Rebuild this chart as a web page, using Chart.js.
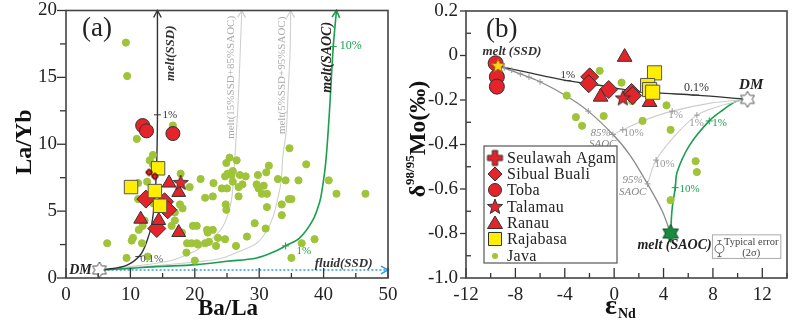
<!DOCTYPE html>
<html>
<head>
<meta charset="utf-8">
<script src="https://cdn.jsdelivr.net/npm/chart.js@4.4.0/dist/chart.umd.min.js"></script>
<style>
html, body { margin: 0; padding: 0; background: #fff; }
#wrap { position: relative; width: 800px; height: 324px; }
.pane { position: absolute; top: 0; width: 400px; height: 324px; }
</style>
</head>
<body>
<div id="wrap">
  <div class="pane" style="left:0"><canvas id="graphA" width="400" height="324"></canvas></div>
  <div class="pane" style="left:400px"><canvas id="graphB" width="400" height="324"></canvas></div>
</div>
<script>
// ---- panel (a) : Ba/La vs La/Yb ----
var javaA = [[9.3,17.6],[9.5,15.1],[11.0,10.4],[13.5,9.2],[16.6,11.4],[13.0,8.8],[11.2,7.1],[12.6,7.2],[17.8,7.8],
  [11.2,5.9],[12.9,6.2],[17.7,5.5],[16.9,4.9],[18.1,5.2],[12.2,4.3],[11.9,3.9],[11.3,3.6],[16.9,4.3],[16.4,3.9],
  [10.4,3.0],[11.8,2.6],[10.2,2.8],[6.4,2.6],[18.8,2.6],[18.7,1.9],[9.4,1.5],[12.7,1.6],[20.3,2.6],[13.5,5.6],
  [19.2,6.8],[19.7,3.9],[18.0,3.4],[13.5,8.5],
  [34.7,9.7],[37.3,8.5],[31.5,8.4],[25.4,9.0],[24.9,8.6],[26.5,8.8],[25.9,8.0],[25.1,7.8],[24.7,7.6],[25.7,7.7],
  [27.0,7.7],[27.9,7.6],[29.8,7.7],[31.1,7.9],[32.9,7.4],[34.1,7.3],[36.1,7.3],[40.8,7.3],[20.9,7.4],[22.9,7.1],
  [24.2,6.7],[25.0,6.7],[26.8,6.8],[27.4,7.0],[25.9,7.2],[29.6,7.0],[30.7,6.9],[29.9,6.7],[30.4,6.3],[31.2,6.3],
  [42.0,6.3],[46.5,6.3],[21.6,6.0],[22.8,6.1],[26.8,6.1],[24.8,5.5],[24.9,5.1],[33.5,5.5],[34.6,5.9],[35.0,5.9],
  [31.2,5.3],[33.5,4.7],[20.3,3.9],[21.9,3.6],[22.8,3.6],[22.0,3.4],[29.3,4.1],[31.0,3.7],[23.6,3.0],[24.7,2.9],
  [28.1,3.1],[26.4,2.4],[22.2,2.7],[21.6,2.6],[20.5,2.5],[19.5,2.6],[23.3,2.4],[36.6,2.6],[38.6,2.9],[35.0,1.5],[20.0,1.3]];
var tobaA = [[11.9,11.4],[12.5,11.0],[16.6,10.8]];
var rajabasaA = [[14.3,8.2],[10.1,6.8],[13.8,6.5],[14.6,5.4]];
var ranauA = [[16.0,7.1],[17.5,6.4],[11.6,4.4],[14.4,4.3],[17.5,3.4]];
var talamauA = [[17.8,7.1]];
var sibualA = [[12.4,5.9],[15.3,5.7],[15.8,5.1],[14.1,3.7]];
var seulawahA = [[12.9,7.9],[13.8,7.6]];
var dmA = [[5.2,0.6]];
var ssdMeltA = [[5.2,0.6],[6.0,0.62],[9.4,0.95],[11.5,1.7],[12.6,2.8],[13.3,4.0],[13.8,6.0],[14.1,8.9],[14.2,12],[14.2,16],[14.2,20]];
var mix15A = [[5.2,0.6],[10,0.85],[14,1.1],[17,1.4],[20,2.0],[21.5,2.5],[23,3.1],[24.3,3.8],[25.3,5],[25.8,6.2],[26.2,8.9],[26.6,12],[26.9,15],[27.1,17.5],[27.3,20]];
var mix5A = [[5.2,0.6],[12,0.85],[18,1.1],[22,1.3],[24.3,1.5],[27,2],[29.6,2.6],[31,3.4],[32.1,4.5],[32.9,6],[33.4,7.2],[33.7,9.2],[34.2,11],[34.5,14],[34.8,17],[34.9,20]];
var saocMeltA = [[5.2,0.6],[10,0.72],[14,0.85],[20.3,1.0],[25,1.25],[29.6,1.5],[32.5,2.0],[34.1,2.4],[36.3,3.0],[38.3,4.3],[39.4,5.7],[39.8,6.7],[40.3,8.5],[40.7,10.9],[41.1,14],[41.5,17.3],[42.0,20]];
var ssdFluidA = [[5.2,0.6],[50,0.6]];
var darkTicksA = [[14.2,12.2],[11.3,1.6]];
var greenTicksA = [[34.1,2.4],[41.5,17.3]];

// ---- panel (b) : eNd vs d98/95Mo ----
var javaB = [[-1.17,-0.069],[0.6,-0.122],[-3.84,-0.18],[-3.1,-0.277],[-2.6,-0.316],[-0.85,-0.272],[1.45,-0.205],
  [4.24,-0.224],[2.3,-0.294],[4.57,-0.334],[6.6,-0.475],[6.7,-0.524],[4.57,-0.65]];
var tobaB = [[-9.6,-0.035],[-9.5,-0.096],[-9.5,-0.14]];
var sibualB = [[-1.98,-0.096],[-2.06,-0.127],[-0.44,-0.153],[1.41,-0.166],[1.5,-0.18]];
var ranauB = [[0.85,-0.007],[-1.1,-0.186],[2.87,-0.21]];
var talamauB = [[0.7,-0.193]];
var rajabasaB = [[3.27,-0.078],[2.71,-0.135],[2.87,-0.153],[3.12,-0.165]];
var ssdB = [[-9.4,-0.047]];
var saocB = [[4.57,-0.8]];
var dmB = [[10.8,-0.197]];
var ssdDmB = [[-9.4,-0.047],[-7.1,-0.075],[-3.8,-0.113],[-1.2,-0.134],[1.4,-0.158],[3.5,-0.168],[6.6,-0.178],[10.8,-0.197]];
var ssdSaocB = [[-9.4,-0.047],[-7.6,-0.083],[-6.0,-0.118],[-3.8,-0.184],[-2.1,-0.25],[-0.1,-0.355],[1.25,-0.445],[2.7,-0.577],[3.9,-0.7],[4.57,-0.8]];
var mix1B = [[10.8,-0.197],[7.7,-0.215],[4.7,-0.25],[2.3,-0.294],[0.7,-0.334],[-0.1,-0.355]];
var mix2B = [[10.8,-0.197],[8.5,-0.228],[6.7,-0.268],[5.0,-0.356],[3.4,-0.47],[2.7,-0.577]];
var dmSaocB = [[10.8,-0.197],[9.9,-0.206],[8.8,-0.245],[7.7,-0.294],[6.1,-0.404],[5.1,-0.524],[4.95,-0.594],[4.7,-0.687],[4.57,-0.8]];
var grayTicksB = [[-8.9,-0.055],[-8.3,-0.066],[-7.6,-0.083],[-6.9,-0.097],[-6.0,-0.118],[-3.8,-0.184],[-2.1,-0.25],
  [-0.1,-0.355],[2.7,-0.577],[4.7,-0.25],[0.7,-0.334],[6.7,-0.268],[3.4,-0.47]];
var greenTicksB = [[7.7,-0.294],[4.95,-0.594]];
var darkTicksB = [[-3.8,-0.113],[6.6,-0.178]];

var legendNames = ['Seulawah Agam', 'Sibual Buali', 'Toba', 'Talamau', 'Ranau', 'Rajabasa', 'Java'];

var RED = '#e4232a', YEL = '#ffee00', JAVA = '#9fc43a', GRN = '#1a9f4c', BLUE = '#2d9ee0';
var SERIF = '"Liberation Serif", "Times New Roman", serif';

function mkCanvas(s) { var c = document.createElement('canvas'); c.width = c.height = s; return c; }
function starImg(n, ro, ri, fill, stroke, lw) {
  var s = Math.ceil(2 * ro + 2 * lw + 2), c = mkCanvas(s), g = c.getContext('2d');
  g.translate(s / 2, s / 2);
  g.beginPath();
  for (var i = 0; i < 2 * n; i++) {
    var r = i % 2 ? ri : ro, a = -Math.PI / 2 + i * Math.PI / n;
    g.lineTo(r * Math.cos(a), r * Math.sin(a));
  }
  g.closePath();
  g.fillStyle = fill; g.fill();
  g.lineWidth = lw; g.strokeStyle = stroke; g.stroke();
  return c;
}
function plusImg(r, w, fill, stroke) {
  var s = Math.ceil(2 * r + 4), c = mkCanvas(s), g = c.getContext('2d');
  g.translate(s / 2, s / 2);
  g.beginPath();
  [[-w,-r],[w,-r],[w,-w],[r,-w],[r,w],[w,w],[w,r],[-w,r],[-w,w],[-r,w],[-r,-w],[-w,-w]].forEach(function (p) { g.lineTo(p[0], p[1]); });
  g.closePath();
  g.fillStyle = fill; g.fill();
  g.lineWidth = 1; g.strokeStyle = stroke; g.stroke();
  return c;
}

var starRed = starImg(5, 8, 3.4, RED, '#333', 1);
var starYel = starImg(5, 7, 3.2, '#ffd21f', '#9a7a00', 1);
var starGrn = starImg(6, 9, 5.2, '#1a8a3e', '#0b4f22', 1);
var starDM = starImg(6, 8, 4.6, '#fff', '#555', 1);
var plusRed = plusImg(7.5, 2.6, RED, '#333');
var plusSmall = plusImg(3, 1.2, RED, '#400');

function pts(arr) { return arr.map(function (p) { return { x: p[0], y: p[1] }; }); }
function marks(label, arr, style, r, fill, stroke) {
  return { label: label, data: pts(arr), pointStyle: style, pointRadius: r, backgroundColor: fill,
    borderColor: stroke, borderWidth: 1, showLine: false };
}
function curve(label, arr, color, w, dash, arrow) {
  return { label: label, data: pts(arr), showLine: true, borderColor: color, borderWidth: w,
    borderDash: dash || [], pointRadius: 0, tension: 0.35, fill: false, arrow: arrow };
}

function axes(xmin, xmax, xstep, ymin, ymax, ystep, ypad, ycb) {
  var f = { family: SERIF, size: 19 };
  return {
    x: { type: 'linear', min: xmin, max: xmax, grid: { display: false, drawTicks: false }, border: { display: false },
      ticks: { stepSize: xstep, includeBounds: false, padding: 6, color: '#222', font: f, maxRotation: 0, autoSkip: false },
      afterFit: function (s) { s.height = 46; s.paddingLeft = 0; s.paddingRight = 0; } },
    y: { type: 'linear', min: ymin, max: ymax, grid: { display: false, drawTicks: false }, border: { display: false },
      ticks: { stepSize: ystep, padding: ypad, color: '#222', font: f, callback: ycb, autoSkip: false },
      afterFit: function (s) { s.width = 66; s.paddingTop = 0; s.paddingBottom = 0; } }
  };
}

function drawFrame(chart, spec) {
  var ctx = chart.ctx, a = chart.chartArea, xs = chart.scales.x, ys = chart.scales.y;
  ctx.save();
  ctx.strokeStyle = '#333'; ctx.lineWidth = 1.3; ctx.setLineDash([]);
  var n = Math.round((xs.max - xs.min) / spec.xMinor);
  for (var i = 0; i <= n; i++) {
    var v = xs.min + i * spec.xMinor, px = xs.getPixelForValue(v);
    var major = Math.abs(v / spec.xMajor - Math.round(v / spec.xMajor)) < 1e-6;
    ctx.beginPath(); ctx.moveTo(px, a.bottom); ctx.lineTo(px, a.bottom - (major ? 10 : 5)); ctx.stroke();
  }
  n = Math.round((ys.max - ys.min) / spec.yMinor);
  for (i = 0; i <= n; i++) {
    v = ys.min + i * spec.yMinor;
    var py = ys.getPixelForValue(v);
    major = Math.abs(v / spec.yMajor - Math.round(v / spec.yMajor)) < 1e-6;
    var len = major ? spec.yMajorLen : spec.yMinorLen;
    ctx.beginPath(); ctx.moveTo(a.left, py); ctx.lineTo(a.left - len, py); ctx.stroke();
  }
  ctx.lineWidth = 1.6; ctx.strokeStyle = '#444';
  ctx.strokeRect(a.left, a.top, a.right - a.left, a.bottom - a.top);
  ctx.restore();
}

function drawArrows(chart) {
  var ctx = chart.ctx, xs = chart.scales.x, ys = chart.scales.y;
  ctx.save();
  chart.data.datasets.forEach(function (ds) {
    if (!ds.arrow) return;
    var d = ds.data, p = d[d.length - 1], q = d[d.length - 2];
    var x1 = xs.getPixelForValue(p.x), y1 = ys.getPixelForValue(p.y);
    var x0 = xs.getPixelForValue(q.x), y0 = ys.getPixelForValue(q.y);
    var ang = Math.atan2(y1 - y0, x1 - x0);
    ctx.strokeStyle = ds.borderColor; ctx.lineWidth = Math.max(1.3, ds.borderWidth); ctx.setLineDash([]);
    ctx.beginPath();
    ctx.moveTo(x1 - 8 * Math.cos(ang - 0.5), y1 - 8 * Math.sin(ang - 0.5));
    ctx.lineTo(x1, y1);
    ctx.lineTo(x1 - 8 * Math.cos(ang + 0.5), y1 - 8 * Math.sin(ang + 0.5));
    ctx.stroke();
  });
  ctx.restore();
}

function drawTexts(chart, list) {
  var ctx = chart.ctx, xs = chart.scales.x, ys = chart.scales.y;
  list.forEach(function (t) {
    ctx.save();
    ctx.translate(xs.getPixelForValue(t.x), ys.getPixelForValue(t.y));
    if (t.rot) ctx.rotate(t.rot);
    ctx.font = t.font; ctx.fillStyle = t.c || '#222';
    ctx.textAlign = t.align || 'center'; ctx.textBaseline = 'middle';
    ctx.fillText(t.t, 0, 0);
    ctx.restore();
  });
}

var BI = function (s) { return 'italic bold ' + s + 'px ' + SERIF; };
var RG = function (s) { return s + 'px ' + SERIF; };
var IT = function (s) { return 'italic ' + s + 'px ' + SERIF; };
var UP = -Math.PI / 2;

var textsA = [
  { t: '(a)', x: 4.8, y: 18.6, font: RG(27) },
  { t: 'DM', x: 4.0, y: 0.6, font: BI(14), align: 'right' },
  { t: '0.1%', x: 13.3, y: 1.4, font: RG(11), c: '#555' },
  { t: '1%', x: 15.0, y: 12.2, font: RG(11), c: '#333', align: 'left' },
  { t: 'fluid(SSD)', x: 47.6, y: 1.1, font: BI(13), c: '#333', align: 'right' },
  { t: '10%', x: 42.5, y: 17.35, font: RG(12), c: GRN, align: 'left' },
  { t: '1%', x: 35.8, y: 2.0, font: RG(11), c: GRN, align: 'left' },
  { t: 'melt(SSD)', x: 16.3, y: 16.8, font: BI(13), c: '#333', rot: UP },
  { t: 'melt(15%SSD+85%SAOC)', x: 25.7, y: 15.0, font: RG(11), c: '#aaa', rot: UP },
  { t: 'melt(5%SSD+95%SAOC)', x: 33.6, y: 15.15, font: RG(11), c: '#aaa', rot: UP },
  { t: 'melt(SAOC)', x: 40.6, y: 16.5, font: BI(14), c: '#222', rot: UP }
];

var textsB = [
  { t: '(b)', x: -9.1, y: 0.116, font: RG(27) },
  { t: 'melt (SSD)', x: -8.28, y: 0.019, font: BI(13), c: '#333' },
  { t: '1%', x: -3.76, y: -0.087, font: RG(11), c: '#333' },
  { t: '0.1%', x: 6.67, y: -0.144, font: RG(12), c: '#333' },
  { t: 'DM', x: 11.1, y: -0.135, font: BI(15), c: '#222' },
  { t: '85%', x: -1.09, y: -0.347, font: IT(11), c: '#888' },
  { t: 'SAOC', x: -0.93, y: -0.4, font: IT(11), c: '#888' },
  { t: '95%', x: 1.5, y: -0.559, font: IT(11), c: '#888' },
  { t: 'SAOC', x: 1.5, y: -0.612, font: IT(11), c: '#888' },
  { t: '10%', x: 1.58, y: -0.347, font: RG(11), c: '#999' },
  { t: '10%', x: 4.08, y: -0.488, font: RG(11), c: '#999' },
  { t: '1%', x: 4.97, y: -0.268, font: RG(11), c: '#999' },
  { t: '1%', x: 6.67, y: -0.303, font: RG(11), c: '#999' },
  { t: '1%', x: 8.53, y: -0.303, font: RG(11), c: GRN },
  { t: '10%', x: 6.1, y: -0.599, font: RG(11), c: GRN },
  { t: 'melt (SAOC)', x: 4.89, y: -0.854, font: BI(14), c: '#222' },
  { t: 'Typical error', x: 11.1, y: -0.841, font: RG(10.5), c: '#444' },
  { t: '(2\u03c3)', x: 11.1, y: -0.89, font: RG(10.5), c: '#444' }
];

var configA = {
  type: 'scatter',
  data: { datasets: [
    marks('DM', dmA, starDM, 5),
    marks('Seulawah Agam', seulawahA, plusSmall, 3),
    marks('Rajabasa', rajabasaA, 'rect', 9.5, YEL, '#555'),
    marks('Talamau', talamauA, starRed, 5),
    marks('Ranau', ranauA, 'triangle', 8, RED, '#333'),
    marks('Sibual Buali', sibualA, 'rectRot', 9, RED, '#333'),
    marks('Toba', tobaA, 'circle', 7, RED, '#333'),
    marks('Java', javaA, 'circle', 3.6, JAVA, JAVA),
    marks('ticks', darkTicksA, 'line', 3.5, '#333', '#333'),
    marks('gticks', greenTicksA, 'cross', 3.5, GRN, GRN),
    curve('melt(SSD)', ssdMeltA, '#333', 1.4, null, true),
    curve('melt(SAOC)', saocMeltA, GRN, 1.6, null, true),
    curve('melt 15%', mix15A, '#cfcfcf', 1.1, null, true),
    curve('melt 5%', mix5A, '#cfcfcf', 1.1, null, true),
    curve('fluid(SSD)', ssdFluidA, BLUE, 1.5, [2, 2], true)
  ] },
  options: {
    responsive: false, animation: false, events: [],
    layout: { padding: { left: 0, top: 6, right: 12, bottom: 0 } },
    plugins: { legend: { display: false }, tooltip: { enabled: false } },
    scales: axes(0, 50, 10, 0, 20, 5, 9)
  },
  plugins: [{
    id: 'panelA',
    afterDatasetsDraw: function (chart) {
      drawArrows(chart);
      drawTexts(chart, textsA);
    },
    afterDraw: function (chart) {
      drawFrame(chart, { xMinor: 5, xMajor: 10, yMinor: 2.5, yMajor: 5, yMajorLen: 9, yMinorLen: 6 });
      var ctx = chart.ctx;
      ctx.save();
      ctx.fillStyle = '#111'; ctx.textAlign = 'center'; ctx.textBaseline = 'middle';
      ctx.font = 'bold 23px ' + SERIF;
      ctx.fillText('Ba/La', 228, 309);
      ctx.translate(25, 142); ctx.rotate(UP);
      ctx.font = 'bold 24px ' + SERIF;
      ctx.fillText('La/Yb', 0, 0);
      ctx.restore();
    }
  }]
};

var configB = {
  type: 'scatter',
  data: { datasets: [
    marks('DM', dmB, starDM, 5),
    marks('melt SSD', ssdB, starYel, 5),
    marks('melt SAOC', saocB, starGrn, 5),
    marks('Rajabasa', rajabasaB, 'rect', 10, YEL, '#555'),
    marks('Talamau', talamauB, starRed, 5),
    marks('Ranau', ranauB, 'triangle', 8.5, RED, '#333'),
    marks('Sibual Buali', sibualB, 'rectRot', 9, RED, '#333'),
    marks('Toba', tobaB, 'circle', 7.5, RED, '#333'),
    marks('Java', javaB, 'circle', 3.6, JAVA, JAVA),
    marks('dticks', darkTicksB, 'line', 3.5, '#333', '#333'),
    marks('gticks', grayTicksB, 'cross', 3, '#999', '#999'),
    marks('grticks', greenTicksB, 'cross', 3.5, GRN, GRN),
    curve('SSD-DM', ssdDmB, '#333', 1.4),
    curve('SSD-SAOC', ssdSaocB, '#8a8a8a', 1.3),
    curve('mix1', mix1B, '#cdcdcd', 1.1),
    curve('mix2', mix2B, '#cdcdcd', 1.1),
    curve('DM-SAOC', dmSaocB, GRN, 1.6)
  ] },
  options: {
    responsive: false, animation: false, events: [],
    layout: { padding: { left: 0, top: 6, right: 13, bottom: 0 } },
    plugins: { legend: { display: false }, tooltip: { enabled: false } },
    scales: axes(-12, 14, 4, -1, 0.2, 0.2, 8, function (v) {
      return Math.abs(v) < 1e-9 ? '0' : v.toFixed(1);
    })
  },
  plugins: [{
    id: 'panelB',
    afterDatasetsDraw: function (chart) {
      drawTexts(chart, textsB);
      var ctx = chart.ctx, xs = chart.scales.x, ys = chart.scales.y;
      // typical error box
      var bx = xs.getPixelForValue(7.96), by = ys.getPixelForValue(-0.806);
      var bx2 = xs.getPixelForValue(13.5), by2 = ys.getPixelForValue(-0.912);
      ctx.save();
      ctx.strokeStyle = '#aaa'; ctx.lineWidth = 1;
      ctx.strokeRect(bx, by, bx2 - bx, by2 - by);
      var cx = xs.getPixelForValue(8.53), cy = ys.getPixelForValue(-0.868);
      ctx.strokeStyle = '#666';
      ctx.beginPath(); ctx.moveTo(cx, cy - 8); ctx.lineTo(cx, cy + 8); ctx.stroke();
      ctx.beginPath(); ctx.moveTo(cx - 2, cy - 8); ctx.lineTo(cx + 2, cy - 8); ctx.moveTo(cx - 2, cy + 8); ctx.lineTo(cx + 2, cy + 8); ctx.stroke();
      ctx.beginPath(); ctx.arc(cx, cy, 4.5, 0, Math.PI * 2); ctx.fillStyle = '#fff'; ctx.fill(); ctx.stroke();
      ctx.restore();
    },
    afterDraw: function (chart) {
      drawFrame(chart, { xMinor: 2, xMajor: 4, yMinor: 0.1, yMajor: 0.2, yMajorLen: 6, yMinorLen: -5 });
      var ctx = chart.ctx;
      ctx.save();
      // legend
      ctx.fillStyle = '#fff'; ctx.fillRect(84, 146, 133, 117);
      ctx.strokeStyle = '#555'; ctx.lineWidth = 1.2; ctx.strokeRect(84, 146, 133, 117);
      var rows = [158, 174, 190, 207, 223, 239, 256];
      ctx.font = RG(16); ctx.fillStyle = '#222'; ctx.textBaseline = 'middle'; ctx.textAlign = 'left';
      if ('letterSpacing' in ctx) ctx.letterSpacing = '0.3px';
      legendNames.forEach(function (name, i) {
        var y = rows[i], x = 95;
        ctx.save();
        ctx.fillStyle = i === 5 ? YEL : (i === 6 ? JAVA : RED);
        ctx.strokeStyle = i === 6 ? JAVA : '#333'; ctx.lineWidth = 1;
        ctx.beginPath();
        if (i === 0) { ctx.drawImage(plusRed, x - plusRed.width / 2, y - plusRed.height / 2); }
        else if (i === 1) { ctx.moveTo(x, y - 7); ctx.lineTo(x + 7, y); ctx.lineTo(x, y + 7); ctx.lineTo(x - 7, y); ctx.closePath(); ctx.fill(); ctx.stroke(); }
        else if (i === 2) { ctx.arc(x, y, 6.5, 0, Math.PI * 2); ctx.fill(); ctx.stroke(); }
        else if (i === 3) { ctx.drawImage(starRed, x - starRed.width / 2, y - starRed.height / 2); }
        else if (i === 4) { ctx.moveTo(x, y - 7); ctx.lineTo(x + 7.5, y + 5.5); ctx.lineTo(x - 7.5, y + 5.5); ctx.closePath(); ctx.fill(); ctx.stroke(); }
        else if (i === 5) { ctx.rect(x - 6.5, y - 6.5, 13, 13); ctx.fill(); ctx.stroke(); }
        else { ctx.arc(x, y, 3, 0, Math.PI * 2); ctx.fill(); }
        ctx.restore();
        ctx.fillText(name, 107, y + 1);
      });
      if ('letterSpacing' in ctx) ctx.letterSpacing = '0px';
      // x title: eps Nd
      ctx.fillStyle = '#111'; ctx.textBaseline = 'alphabetic';
      ctx.font = 'bold 28px ' + SERIF;
      ctx.fillText('\u03b5', 205, 314);
      var w = ctx.measureText('\u03b5').width;
      ctx.font = 'bold 14px ' + SERIF;
      ctx.fillText('Nd', 205 + w + 1, 318);
      // y title: d98/95Mo(permil)
      ctx.translate(25, 139); ctx.rotate(UP);
      var big = 'bold 24px ' + SERIF, sm = 'bold 13px ' + SERIF;
      ctx.font = big; var w1 = ctx.measureText('\u03b4').width, w3 = ctx.measureText('Mo(\u2030)').width;
      ctx.font = sm; var w2 = ctx.measureText('98/95').width;
      var x0 = -(w1 + w2 + w3) / 2;
      ctx.textAlign = 'left'; ctx.textBaseline = 'alphabetic';
      ctx.font = big; ctx.fillText('\u03b4', x0, 0);
      ctx.font = sm; ctx.fillText('98/95', x0 + w1, -11);
      ctx.font = big; ctx.fillText('Mo(\u2030)', x0 + w1 + w2, 0);
      ctx.restore();
    }
  }]
};

new Chart(document.getElementById('graphA').getContext('2d'), configA);
new Chart(document.getElementById('graphB').getContext('2d'), configB);
</script>
</body>
</html>
